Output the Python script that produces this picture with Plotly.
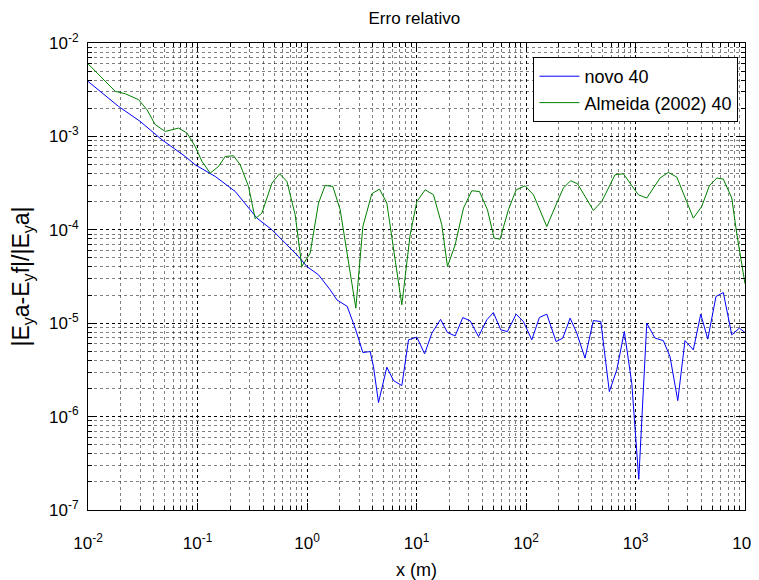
import numpy as np
import plotly.graph_objects as go

# Data stored as log10 exponents
novo_x_exp = [-2.000, -1.721, -1.523, -1.325, -1.112, -1.021, -0.838, -0.655, -0.457, -0.320,
              -0.199, -0.078, -0.001, 0.105, 0.212, 0.273, 0.367, 0.440, 0.510, 0.577,
              0.607, 0.653, 0.729, 0.790, 0.866, 0.927, 1.003, 1.074, 1.140, 1.220,
              1.283, 1.353, 1.423, 1.490, 1.566, 1.642, 1.702, 1.770, 1.830, 1.910,
              1.976, 2.053, 2.122, 2.190, 2.275, 2.336, 2.403, 2.464, 2.539, 2.615,
              2.683, 2.761, 2.829, 2.898, 2.966, 3.030, 3.103, 3.178, 3.254, 3.315,
              3.386, 3.452, 3.528, 3.596, 3.660, 3.735, 3.802, 3.879, 3.948, 4.000]
novo_y_exp = [-2.411, -2.679, -2.840, -3.036, -3.215, -3.304, -3.429, -3.590, -3.875, -4.000,
              -4.142, -4.286, -4.393, -4.482, -4.643, -4.750, -4.820, -5.053, -5.314, -5.304,
              -5.464, -5.850, -5.471, -5.614, -5.668, -5.178, -5.149, -5.328, -5.107, -4.959,
              -5.100, -5.136, -4.939, -4.975, -5.143, -4.964, -4.886, -5.071, -5.090, -4.903,
              -4.982, -5.178, -4.939, -4.903, -5.197, -5.160, -4.946, -5.107, -5.374, -4.972,
              -4.982, -5.732, -5.500, -5.090, -5.642, -6.671, -5.000, -5.160, -5.186, -5.357,
              -5.829, -5.186, -5.285, -4.903, -5.171, -4.714, -4.672, -5.125, -5.053, -5.100]

alm_x_exp = [-2.000, -1.903, -1.751, -1.660, -1.538, -1.461, -1.386, -1.294, -1.173, -1.096,
             -1.021, -0.959, -0.884, -0.808, -0.747, -0.671, -0.610, -0.534, -0.473, -0.412,
             -0.320, -0.251, -0.183, -0.108, -0.047, 0.029, 0.105, 0.166, 0.236, 0.303,
             0.379, 0.446, 0.510, 0.592, 0.662, 0.729, 0.805, 0.866, 0.942, 1.003,
             1.079, 1.155, 1.231, 1.283, 1.353, 1.429, 1.505, 1.575, 1.648, 1.709,
             1.763, 1.839, 1.910, 1.992, 2.068, 2.190, 2.281, 2.341, 2.407, 2.471,
             2.615, 2.692, 2.813, 2.889, 3.026, 3.103, 3.224, 3.300, 3.377, 3.528,
             3.605, 3.674, 3.742, 3.802, 3.879, 3.924, 4.000]
alm_y_exp = [-2.222, -2.340, -2.518, -2.543, -2.607, -2.715, -2.875, -2.947, -2.911, -2.964,
             -3.108, -3.268, -3.393, -3.322, -3.215, -3.207, -3.304, -3.536, -3.882, -3.821,
             -3.500, -3.400, -3.483, -3.839, -4.393, -4.250, -3.714, -3.525, -3.536, -3.786,
             -4.321, -4.839, -3.965, -3.614, -3.564, -3.714, -4.321, -4.803, -4.054, -3.697,
             -3.572, -3.625, -3.946, -4.393, -4.161, -3.768, -3.582, -3.590, -3.786, -4.089,
             -4.100, -3.786, -3.572, -3.529, -3.625, -3.965, -3.714, -3.553, -3.475, -3.507,
             -3.793, -3.697, -3.411, -3.400, -3.625, -3.660, -3.446, -3.386, -3.435, -3.875,
             -3.750, -3.529, -3.446, -3.457, -3.660, -4.035, -4.578]

x_tick_exps = [-2, -1, 0, 1, 2, 3, 4]
y_tick_exps = [-7, -6, -5, -4, -3, -2]
minor_mult = [1, 2, 3, 4, 5, 6, 7, 8, 9]

novo_x = 10.0 ** np.array(novo_x_exp)
novo_y = 10.0 ** np.array(novo_y_exp)
alm_x = 10.0 ** np.array(alm_x_exp)
alm_y = 10.0 ** np.array(alm_y_exp)

FONT = "Liberation Sans, Arial, sans-serif"


def all_ticks(exps):
    vals, texts = [], []
    for e in exps:
        for m in minor_mult:
            if e == exps[-1] and m > 1:
                break
            vals.append(m * 10.0 ** e)
            texts.append("10<sup>%d</sup>" % e if m == 1 else "")
    return vals, texts


xv, xt = all_ticks(x_tick_exps)
yv, yt = all_ticks(y_tick_exps)

fig = go.Figure()
# empty trace so the primary (label + minor grid) axes are drawn
fig.add_trace(go.Scatter(x=[], y=[], mode="lines", showlegend=False, hoverinfo="skip"))
fig.add_trace(go.Scatter(x=novo_x, y=novo_y, mode="lines", name="novo 40",
                         line=dict(color="#0000FF", width=1), xaxis="x2", yaxis="y2"))
fig.add_trace(go.Scatter(x=alm_x, y=alm_y, mode="lines", name="Almeida (2002) 40",
                         line=dict(color="#008000", width=1), xaxis="x2", yaxis="y2"))

tickfont = dict(family=FONT, size=17, color="black")
base = dict(type="log", showline=True, linecolor="black", linewidth=1, mirror="ticks",
            ticks="inside", ticklen=4, tickcolor="black",
            showgrid=True, gridcolor="rgba(0,0,0,0.5)", griddash="dot", gridwidth=1,
            zeroline=False, tickfont=tickfont, automargin=False)
over = dict(type="log", showline=False, ticks="inside", ticklen=7, tickcolor="black",
            mirror="ticks", showgrid=True, gridcolor="black", griddash="dot", gridwidth=1,
            zeroline=False, showticklabels=False, automargin=False)

# the page adds an 8px body margin, so the figure is sized to fit inside the window
fig.update_layout(
    width=751, height=572,
    margin=dict(l=80, r=14, t=35, b=70, autoexpand=False),
    paper_bgcolor="white", plot_bgcolor="white",
    xaxis=dict(**base, range=[-2, 4], tickvals=xv, ticktext=xt, ticklabelstandoff=18,
               title=dict(text="x (m)", font=dict(family=FONT, size=18, color="black"),
                          standoff=15)),
    yaxis=dict(**base, range=[-7, -2], tickvals=yv, ticktext=yt, ticklabelstandoff=5,
               title=dict(text="|E<sub>y</sub>a-E<sub>y</sub>f|/|E<sub>y</sub>a|",
                          font=dict(family=FONT, size=23, color="black"), standoff=14)),
    xaxis2=dict(**over, range=[-2, 4], overlaying="x",
                tickvals=[10.0 ** e for e in x_tick_exps]),
    yaxis2=dict(**over, range=[-7, -2], overlaying="y",
                tickvals=[10.0 ** e for e in y_tick_exps]),
    title=dict(text="Erro relativo", x=0.541, xanchor="center", y=0.983, yanchor="middle",
               font=dict(family=FONT, size=17, color="black")),
    legend=dict(x=0.99, y=0.97, xanchor="right", yanchor="top",
                bgcolor="white", bordercolor="black", borderwidth=1,
                font=dict(family=FONT, size=18, color="black"),
                itemwidth=40, tracegroupgap=2),
    showlegend=True,
)

fig.write_html("out.html")
